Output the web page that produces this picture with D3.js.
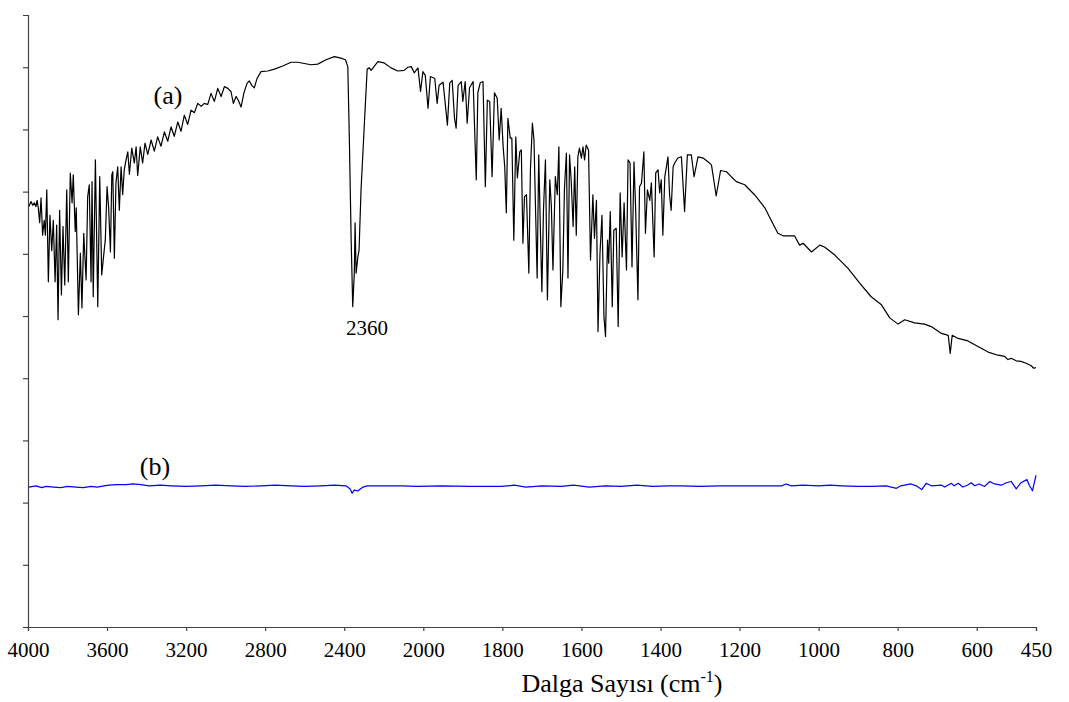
<!DOCTYPE html>
<html>
<head>
<meta charset="utf-8">
<script src="https://cdn.jsdelivr.net/npm/d3@7"></script>
<style>
  body { margin: 0; background: #fff; }
  svg text { font-family: "Liberation Serif", "Times New Roman", serif; fill: #000; }
</style>
</head>
<body>
<div id="chart"></div>
<script>
// x ticks (wavenumber, cm-1)
const xTickValues = [4000, 3600, 3200, 2800, 2400, 2000, 1800, 1600, 1400, 1200, 1000, 800, 600, 450];

// spectrum (a)
const waveA = [3995, 3985, 3976, 3968, 3960, 3954, 3948, 3941, 3934, 3926, 3918, 3912, 3905, 3897, 3889, 3880, 3872, 3863, 3855, 3848,
  3840, 3831, 3823, 3814, 3804, 3796, 3786, 3777, 3771, 3761, 3756, 3745, 3735, 3727, 3718, 3706, 3698, 3690, 3681, 3676,
  3670, 3659, 3647, 3637, 3627, 3617, 3609, 3600, 3592, 3583, 3576, 3571, 3563, 3555, 3546, 3538, 3529, 3521, 3513, 3504,
  3495, 3487, 3475, 3462, 3453, 3445, 3432, 3420, 3408, 3394, 3377, 3361, 3344, 3327, 3310, 3293, 3276, 3260, 3242, 3226,
  3209, 3192, 3175, 3158, 3141, 3124, 3108, 3091, 3074, 3057, 3040, 3023, 3006, 2989, 2973, 2961, 2947, 2936, 2922, 2908,
  2892, 2880, 2866, 2855, 2841, 2821, 2787, 2753, 2711, 2669, 2635, 2602, 2568, 2534, 2492, 2450, 2421, 2394, 2382, 2374,
  2365, 2357, 2349, 2345, 2340, 2331, 2325, 2315, 2298, 2284, 2273, 2264, 2230, 2198, 2163, 2129, 2097, 2078, 2061, 2046,
  2027, 2014, 2002, 1995, 1988, 1982, 1971, 1965, 1960, 1950, 1939, 1933, 1927, 1921, 1917, 1912, 1904, 1900, 1894, 1889,
  1883, 1874, 1866, 1862, 1856, 1849, 1843, 1838, 1832, 1826, 1820, 1813, 1808, 1803, 1798, 1794, 1790, 1786, 1780, 1776,
  1771, 1766, 1762, 1756, 1752, 1748, 1744, 1739, 1733, 1729, 1724, 1720, 1716, 1712, 1708, 1704, 1700, 1696, 1691, 1686,
  1680, 1676, 1672, 1666, 1661, 1657, 1652, 1647, 1643, 1638, 1634, 1630, 1626, 1621, 1617, 1613, 1609, 1605, 1600, 1596,
  1592, 1588, 1582, 1577, 1571, 1567, 1562, 1558, 1553, 1548, 1543, 1539, 1534, 1531, 1527, 1522, 1518, 1512, 1507, 1502,
  1497, 1492, 1486, 1482, 1477, 1472, 1467, 1463, 1457, 1453, 1448, 1442, 1438, 1433, 1427, 1423, 1416, 1412, 1406, 1402,
  1398, 1394, 1389, 1381, 1377, 1373, 1368, 1364, 1356, 1347, 1339, 1332, 1322, 1315, 1305, 1292, 1280, 1271, 1259, 1248,
  1233, 1221, 1208, 1187, 1162, 1136, 1120, 1103, 1090, 1061, 1048, 1039, 1018, 997, 985, 959, 926, 896, 867, 841,
  820, 799, 782, 757, 732, 715, 689, 672, 667, 662, 647, 622, 597, 571, 546, 529, 521, 513, 500, 488,
  475, 462, 456, 450];
const valueA = [67.6, 68.4, 67.8, 68.2, 67.6, 68.6, 67.4, 65.0, 69.0, 63.0, 65.4, 63.0, 70.3, 55.5, 66.2, 60.5, 65.4, 55.5, 64.6, 49.4,
  67.0, 53.4, 64.4, 55.0, 70.3, 55.5, 73.0, 68.2, 72.7, 63.6, 67.4, 50.2, 60.1, 51.3, 63.3, 55.8, 69.2, 71.1, 55.5, 71.6,
  53.1, 75.1, 51.5, 72.4, 56.6, 59.8, 62.2, 70.8, 67.4, 60.3, 72.7, 73.2, 59.3, 71.4, 74.0, 67.0, 74.0, 69.5, 73.5, 75.1,
  76.4, 72.8, 77.0, 74.6, 77.2, 72.6, 77.2, 74.6, 77.8, 76.0, 78.3, 76.5, 78.8, 77.3, 79.6, 78.1, 80.4, 78.9, 81.2, 79.7,
  82.3, 80.8, 83.1, 82.7, 84.2, 83.7, 84.2, 84.0, 85.8, 84.5, 86.6, 85.3, 86.9, 86.6, 86.1, 84.2, 85.3, 84.7, 83.6, 85.8,
  87.4, 87.8, 87.0, 86.7, 88.2, 89.3, 89.4, 89.7, 90.2, 90.8, 90.8, 90.6, 90.4, 90.5, 91.2, 91.7, 91.5, 91.2, 90.1, 78.3,
  62.2, 51.5, 56.9, 65.0, 56.9, 59.5, 60.6, 70.3, 81.0, 89.7, 89.9, 89.5, 90.9, 90.7, 89.9, 89.4, 89.5, 90.0, 90.1, 89.1,
  89.9, 86.1, 89.3, 88.7, 83.4, 88.5, 88.2, 84.2, 87.1, 87.6, 80.7, 87.5, 87.9, 81.8, 80.2, 87.1, 87.7, 84.5, 87.7, 81.0,
  86.7, 87.7, 71.9, 85.9, 87.5, 87.7, 70.8, 84.7, 84.5, 72.4, 85.9, 85.0, 78.3, 83.4, 77.2, 74.0, 66.6, 81.8, 78.6, 78.6,
  62.2, 78.8, 72.2, 76.4, 76.7, 61.7, 69.2, 69.5, 56.9, 73.5, 81.0, 78.3, 67.0, 56.1, 75.9, 64.4, 53.9, 67.0, 75.1, 52.6,
  71.9, 67.6, 57.4, 72.4, 69.5, 77.2, 51.5, 57.4, 70.3, 76.2, 56.1, 75.9, 71.9, 64.4, 74.0, 63.0, 75.6, 77.0, 75.4, 77.2,
  75.1, 77.5, 76.7, 59.0, 69.5, 62.5, 68.6, 47.5, 60.1, 66.2, 49.9, 46.7, 62.2, 58.5, 66.8, 51.5, 63.8, 64.1, 48.3, 69.8,
  59.5, 68.2, 57.4, 75.1, 74.6, 57.9, 74.8, 67.6, 52.6, 70.8, 71.4, 76.4, 63.3, 70.3, 68.6, 71.4, 59.5, 73.0, 73.5, 69.8,
  71.9, 63.0, 72.4, 75.6, 69.5, 67.0, 74.0, 74.6, 75.4, 75.6, 66.8, 75.9, 75.9, 72.4, 75.6, 75.4, 74.8, 74.3, 69.3, 73.4,
  73.2, 72.4, 71.6, 71.1, 69.5, 67.4, 65.4, 63.3, 62.9, 62.9, 61.4, 61.7, 60.3, 61.4, 61.1, 59.8, 57.7, 55.3, 53.1, 51.8,
  49.7, 48.7, 49.4, 48.9, 48.7, 48.3, 47.2, 46.9, 44.0, 46.9, 46.4, 46.0, 45.1, 44.2, 43.7, 43.5, 43.0, 43.2, 42.8, 42.7,
  42.4, 42.0, 41.6, 41.7];

// spectrum (b)
const waveB = [3995, 3960, 3930, 3909, 3870, 3833, 3800, 3757, 3720, 3681, 3650, 3615, 3590, 3550, 3504, 3470, 3428, 3388, 3330, 3276,
  3200, 3124, 3050, 2973, 2900, 2821, 2750, 2669, 2600, 2517, 2450, 2391, 2370, 2360, 2350, 2330, 2305, 2284, 2200, 2112,
  2030, 1954, 1880, 1803, 1770, 1740, 1700, 1651, 1620, 1580, 1540, 1499, 1460, 1420, 1380, 1347, 1300, 1250, 1196, 1150,
  1094, 1082, 1069, 1040, 1000, 970, 942, 900, 867, 829, 803, 792, 766, 753, 739, 728, 715, 689, 681, 664,
  657, 647, 635, 624, 614, 605, 594, 580, 567, 555, 538, 525, 513, 500, 488, 473, 467, 459, 450];
const valueB = [22.5, 22.7, 22.4, 22.6, 22.5, 22.4, 22.6, 22.5, 22.4, 22.6, 22.5, 22.7, 22.8, 22.9, 22.9, 23.0, 22.9, 22.7, 22.8, 22.7,
  22.6, 22.7, 22.8, 22.7, 22.6, 22.7, 22.8, 22.7, 22.6, 22.7, 22.8, 22.7, 22.2, 21.5, 22.0, 21.9, 22.5, 22.7, 22.7, 22.7,
  22.6, 22.7, 22.6, 22.6, 22.8, 22.5, 22.7, 22.6, 22.8, 22.5, 22.7, 22.6, 22.8, 22.6, 22.7, 22.7, 22.6, 22.7, 22.7, 22.7,
  22.7, 23.0, 22.7, 22.8, 22.7, 22.8, 22.7, 22.6, 22.6, 22.7, 22.3, 22.7, 23.0, 22.7, 22.1, 23.1, 22.7, 22.8, 22.5, 23.1,
  22.7, 23.1, 22.5, 22.8, 23.2, 22.7, 23.0, 22.6, 23.4, 23.0, 22.8, 23.2, 23.4, 22.2, 23.2, 23.7, 22.8, 21.9, 24.4];

const width = 1069;
const height = 702;

const svg = d3.select('#chart').append('svg')
  .attr('width', width)
  .attr('height', height);

// scale expands x2 below 2000 cm-1
const x = d3.scaleLinear()
  .domain([4000, 2000, 450])
  .range([28, 423.3, 1036]);

const y = d3.scaleLinear()
  .domain([0, 98.4])
  .range([627, 15]);

const line = d3.line()
  .x(d => x(d[0]))
  .y(d => y(d[1]));

svg.append('path')
  .datum(d3.zip(waveA, valueA))
  .attr('fill', 'none')
  .attr('stroke', '#000')
  .attr('stroke-width', 1.2)
  .attr('stroke-linejoin', 'round')
  .attr('d', line);

svg.append('path')
  .datum(d3.zip(waveB, valueB))
  .attr('fill', 'none')
  .attr('stroke', '#0000ff')
  .attr('stroke-width', 1.2)
  .attr('stroke-linejoin', 'round')
  .attr('d', line);

// axes
const xAxis = svg.append('g')
  .attr('transform', 'translate(0,627)')
  .attr('font-family', 'Liberation Serif')
  .call(d3.axisBottom(x)
    .tickValues(xTickValues)
    .tickSize(4)
    .tickSizeOuter(4)
    .tickPadding(11)
    .tickFormat(d3.format('d')));
xAxis.attr('font-family', 'Liberation Serif').attr('font-size', 21);
xAxis.selectAll('text')
  .attr('font-family', 'Liberation Serif')
  .attr('font-size', 21);

svg.append('g')
  .attr('transform', 'translate(28,0)')
  .call(d3.axisLeft(y)
    .tickValues(d3.range(0, 100, 10))
    .tickSize(5)
    .tickSizeOuter(5)
    .tickFormat(''));

svg.selectAll('.domain, .tick line')
  .attr('stroke', '#444')
  .attr('stroke-width', 1.2);

// axis title
const title = svg.append('text')
  .attr('x', 622)
  .attr('y', 692)
  .attr('text-anchor', 'middle')
  .attr('font-size', 26);
title.append('tspan').text('Dalga Sayısı (cm');
title.append('tspan').attr('font-size', 16).attr('dy', -10).text('-1');
title.append('tspan').attr('dy', 10).text(')');

// labels
svg.append('text')
  .attr('x', 168)
  .attr('y', 104)
  .attr('text-anchor', 'middle')
  .attr('font-size', 26)
  .text('(a)');

svg.append('text')
  .attr('x', 155)
  .attr('y', 475)
  .attr('text-anchor', 'middle')
  .attr('font-size', 26)
  .text('(b)');

svg.append('text')
  .attr('x', 346)
  .attr('y', 335)
  .attr('font-size', 21)
  .text('2360');
</script>
</body>
</html>
